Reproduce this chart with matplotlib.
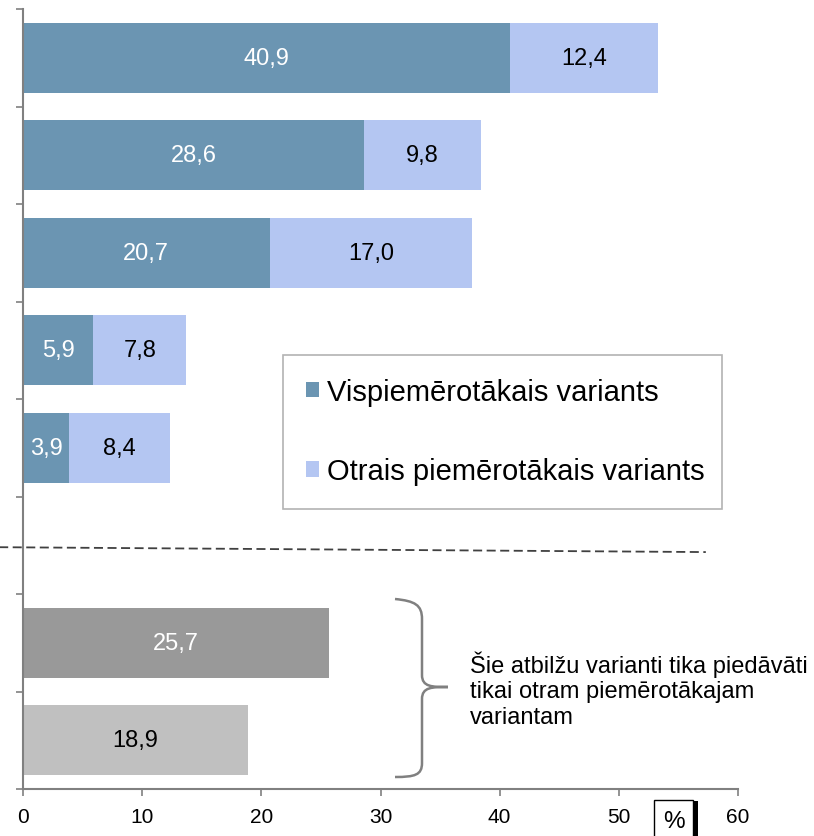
import matplotlib
matplotlib.use("Agg")
import matplotlib.pyplot as plt
from matplotlib.path import Path
from matplotlib.patches import PathPatch, Rectangle

plt.rcParams['font.family'] = ['Liberation Sans', 'DejaVu Sans']

# Data (top to bottom slots; slot 5 is the empty separator)
main_pos = [0, 1, 2, 3, 4]
first_vals = [40.9, 28.6, 20.7, 5.9, 3.9]
second_vals = [12.4, 9.8, 17.0, 7.8, 8.4]
extra_pos = [6, 7]
extra_vals = [25.7, 18.9]
legend_labels = ["Vispiemērotākais variants", "Otrais piemērotākais variants"]
note_text = "Šie atbilžu varianti tika piedāvāti\ntikai otram piemērotākajam\nvariantam"
xticks = [0, 10, 20, 30, 40, 50, 60]

c_first = "#6B95B2"
c_second = "#B4C6F2"
c_extra = ["#999999", "#C0C0C0"]
extra_txt = ["white", "black"]

W, H = 814, 837
fig = plt.figure(figsize=(W / 100, H / 100), dpi=100)
ax = fig.add_axes([23 / W, 1 - 790 / H, (738 - 23) / W, (790 - 10) / H])

bh = 0.72
b1 = ax.barh(main_pos, first_vals, height=bh, color=c_first, label=legend_labels[0])
b2 = ax.barh(main_pos, second_vals, left=first_vals, height=bh, color=c_second, label=legend_labels[1])
b3 = ax.barh(extra_pos, extra_vals, height=bh, color=c_extra)

fs_bar = 17
for p, v1, v2 in zip(main_pos, first_vals, second_vals):
    ax.text(v1 / 2, p, f"{v1:.1f}".replace(".", ","), ha="center", va="center",
            color="white", fontsize=fs_bar)
    ax.text(v1 + v2 / 2, p, f"{v2:.1f}".replace(".", ","), ha="center", va="center",
            color="black", fontsize=fs_bar)
for p, v, tc in zip(extra_pos, extra_vals, extra_txt):
    ax.text(v / 2, p, f"{v:.1f}".replace(".", ","), ha="center", va="center",
            color=tc, fontsize=fs_bar)

ax.set_xlim(0, 60)
ax.set_ylim(7.5, -0.5)
ax.set_xticks(xticks)
ax.set_xticklabels([str(t) for t in xticks], fontsize=15)
ax.set_yticks([i - 0.5 for i in range(9)])
ax.set_yticklabels([])
for s in ["top", "right"]:
    ax.spines[s].set_visible(False)
for s in ["left", "bottom"]:
    ax.spines[s].set_color("#808080")
    ax.spines[s].set_linewidth(1.5)
ax.tick_params(axis="both", direction="out", length=5, color="#808080", width=1.2)
ax.tick_params(axis="x", pad=8)

# dashed separator
ax.plot([-2.0, 57.3], [5.02, 5.07], ls=(0, (5, 2.5)), color="#404040", lw=1.3, clip_on=False)

# legend
leg = ax.legend(handles=[b1, b2], loc="upper left",
                bbox_to_anchor=(283 / W, 1 - 512 / H, (722 - 283) / W, (512 - 356) / H),
                bbox_transform=fig.transFigure, mode="expand",
                fontsize=21, handlelength=0.42, handleheight=0.42, handletextpad=0.3,
                labelspacing=1.75, borderpad=0.8, borderaxespad=0,
                fancybox=False, frameon=True, edgecolor="#A0A0A0")
leg.get_frame().set_linewidth(1.2)

# brace (pixel coordinates -> figure fraction)
def fp(x, y):
    return (x / W, 1 - y / H)

verts = [fp(395, 600), fp(415, 602), fp(422, 606), fp(422, 620),
         fp(422, 676),
         fp(422, 688), fp(432, 688), fp(448, 688),
         fp(432, 688), fp(422, 688), fp(422, 700),
         fp(422, 764),
         fp(422, 776), fp(415, 778), fp(395, 778)]
codes = [Path.MOVETO, Path.CURVE4, Path.CURVE4, Path.CURVE4,
         Path.LINETO,
         Path.CURVE4, Path.CURVE4, Path.CURVE4,
         Path.CURVE4, Path.CURVE4, Path.CURVE4,
         Path.LINETO,
         Path.CURVE4, Path.CURVE4, Path.CURVE4]
fig.add_artist(PathPatch(Path(verts, codes), transform=fig.transFigure,
                         facecolor="none", edgecolor="#808080", lw=1.8))

fig.text(470 / W, 1 - 690 / H, note_text, ha="left", va="center", fontsize=17,
         linespacing=1.22)

# % box with shadow
fig.add_artist(Rectangle(fp(693, 837), 5 / W, 35 / H, transform=fig.transFigure,
                         facecolor="black", edgecolor="none"))
fig.add_artist(Rectangle(fp(654, 840), 39 / W, 39 / H, transform=fig.transFigure,
                         facecolor="white", edgecolor="black", lw=1))
fig.text(673.5 / W, 1 - 822 / H, "%", ha="center", va="center", fontsize=17.5)

fig.savefig("out.png", dpi=100)
